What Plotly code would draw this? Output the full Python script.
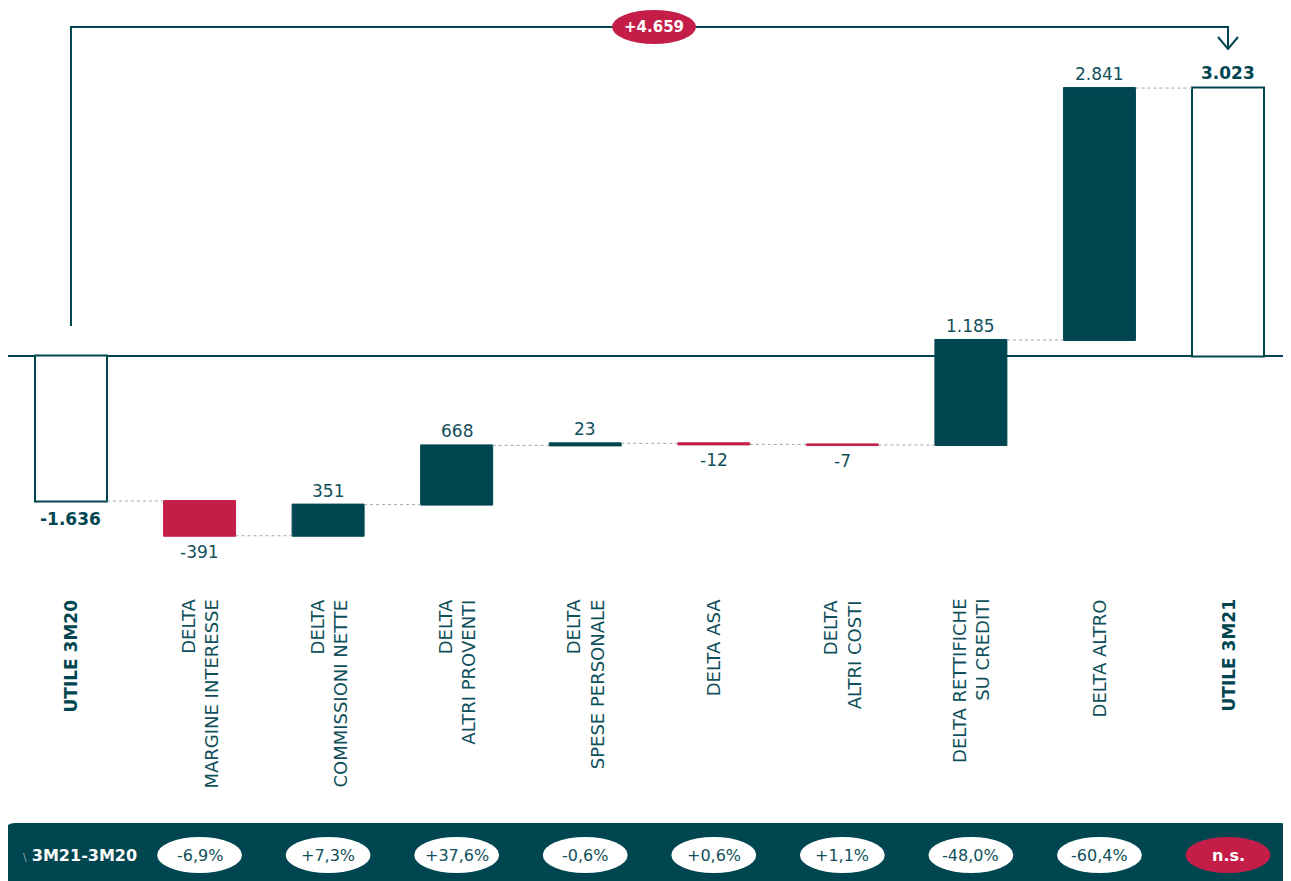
import plotly.graph_objects as go

# ---------------- data ----------------
categories = [
    "UTILE 3M20",
    "DELTA<br>MARGINE INTERESSE",
    "DELTA<br>COMMISSIONI NETTE",
    "DELTA<br>ALTRI PROVENTI",
    "DELTA<br>SPESE PERSONALE",
    "DELTA ASA",
    "DELTA<br>ALTRI COSTI",
    "DELTA RETTIFICHE<br>SU CREDITI",
    "DELTA ALTRO",
    "UTILE 3M21",
]
values = [-1636, -391, 351, 668, 23, -12, -7, 1185, 2841, 3023]
measures = ["absolute"] + ["relative"] * 8 + ["absolute"]
pct_labels = ["-6,9%", "+7,3%", "+37,6%", "-0,6%", "+0,6%", "+1,1%", "-48,0%", "-60,4%", "n.s."]
pct_title = "3M21-3M20"

# ---------------- style ----------------
TEAL = "#004651"
RED = "#C41E48"
TXT = "#10505B"
GREY = "#9AA8AC"
FONT = "DejaVu Sans"
OFF = 8                      # page body margin of the html page
W, H = 1291 - OFF, 881 - OFF  # figure size
X_RANGE = [-0.490, 9.49]
Y_RANGE = [-5921, 3925]


def fmt(v):
    return f"{v:,}".replace(",", ".")


def px(p):
    return (p - OFF) / W


def py(p):
    return 1 - (p - OFF) / H


x_idx = list(range(len(categories)))

# cumulative ends
ends = []
run = 0
for v, m in zip(values, measures):
    run = v if m == "absolute" else run + v
    ends.append(run)

fig = go.Figure()
fig.add_trace(go.Waterfall(
    x=x_idx,
    y=values,
    measure=measures,
    width=0.56,
    increasing=dict(marker=dict(color=TEAL, line=dict(color=TEAL, width=1))),
    decreasing=dict(marker=dict(color=RED, line=dict(color=RED, width=1))),
    totals=dict(marker=dict(color="white", line=dict(color=TEAL, width=2))),
    connector=dict(mode="between", line=dict(color=GREY, width=1, dash="3px,3px")),
    hoverinfo="skip",
    showlegend=False,
))

annotations = []
shapes = []

# value labels
for i, (v, m, e) in enumerate(zip(values, measures, ends)):
    is_total = m == "absolute"
    txt = fmt(v)
    if is_total:
        txt = f"<b>{txt}</b>"
    col = TEAL if is_total else TXT
    if v >= 0:
        annotations.append(dict(x=i, y=e, xref="x", yref="y", text=txt, showarrow=False,
                                xanchor="center", yanchor="bottom", yshift=3 if is_total else 2,
                                font=dict(family=FONT, size=17, color=col)))
    else:
        annotations.append(dict(x=i, y=e, xref="x", yref="y", text=txt, showarrow=False,
                                xanchor="center", yanchor="top", yshift=-6 if is_total else -4,
                                font=dict(family=FONT, size=17, color=col)))

# category labels (rotated)
for i, c in enumerate(categories):
    bold = c.startswith("UTILE")
    annotations.append(dict(
        x=i, y=py(597), xref="x", yref="paper",
        text=f"<b>{c}</b>" if bold else c,
        textangle=-90, showarrow=False, align="right",
        xanchor="center", yanchor="top",
        font=dict(family=FONT, size=17 if bold else 18, color=TEAL if bold else TXT),
    ))

# zero line
shapes.append(dict(type="line", xref="paper", yref="y", x0=px(5), x1=1, y0=0, y1=0,
                   line=dict(color=TEAL, width=2), layer="below"))

# bracket from first to last bar
first_i, last_i = 0, len(categories) - 1
dx = 10 * (X_RANGE[1] - X_RANGE[0]) / W
shapes.append(dict(
    type="path", xref="x", yref="paper",
    path=(f"M {first_i},{py(326)} L {first_i},{py(27)} L {last_i},{py(27)} L {last_i},{py(49)}"),
    line=dict(color=TEAL, width=2),
))
shapes.append(dict(
    type="path", xref="x", yref="paper",
    path=(f"M {last_i - dx},{py(37)} L {last_i},{py(49)} L {last_i + dx},{py(37)}"),
    line=dict(color=TEAL, width=2),
))
# red pill on bracket
shapes.append(dict(type="circle", xref="paper", yref="paper",
                   x0=px(612), x1=px(696), y0=py(44), y1=py(10),
                   fillcolor=RED, line=dict(color=RED, width=0)))
delta_total = ends[-1] - ends[0]
annotations.append(dict(x=px(654), y=py(27), xref="paper", yref="paper",
                        xanchor="center", yanchor="middle",
                        text=f"<b>+{fmt(delta_total)}</b>", showarrow=False,
                        font=dict(family=FONT, size=15, color="white")))

# bottom band
r = 10
p = (f"M {px(5)},{py(890)} L {px(5)},{py(823 + r)} Q {px(5)},{py(823)} {px(5 + r)},{py(823)} "
     f"L {px(1290 - r)},{py(823)} Q {px(1290)},{py(823)} {px(1290)},{py(823 + r)} "
     f"L {px(1290)},{py(890)} Z")
shapes.append(dict(type="path", xref="paper", yref="paper", path=p,
                   fillcolor=TEAL, line=dict(color=TEAL, width=0)))

annotations.append(dict(x=px(21), y=py(855), xref="paper", yref="paper",
                        xanchor="left", yanchor="middle",
                        text=f"<span style='color:#8FAAB0;font-size:11px'>\\</span> <b>{pct_title}</b>",
                        showarrow=False, font=dict(family=FONT, size=16, color="white")))

for k, lab in enumerate(pct_labels):
    i = k + 1
    special = lab == "n.s."
    shapes.append(dict(type="circle", xref="x", yref="paper",
                       x0=i - 0.33, x1=i + 0.33, y0=py(873), y1=py(837),
                       fillcolor=RED if special else "white", line=dict(width=0)))
    annotations.append(dict(x=i, y=py(855), xref="x", yref="paper",
                            xanchor="center", yanchor="middle",
                            text=f"<b>{lab}</b>" if special else lab, showarrow=False,
                            font=dict(family=FONT, size=16, color="white" if special else TXT)))

fig.update_layout(
    width=W, height=H,
    margin=dict(l=0, r=0, t=0, b=0),
    paper_bgcolor="white", plot_bgcolor="white",
    xaxis=dict(range=X_RANGE, visible=False, fixedrange=True),
    yaxis=dict(range=Y_RANGE, visible=False, fixedrange=True),
    shapes=shapes, annotations=annotations,
    font=dict(family=FONT, color=TXT),
    showlegend=False,
)

fig.write_html("out.html")
